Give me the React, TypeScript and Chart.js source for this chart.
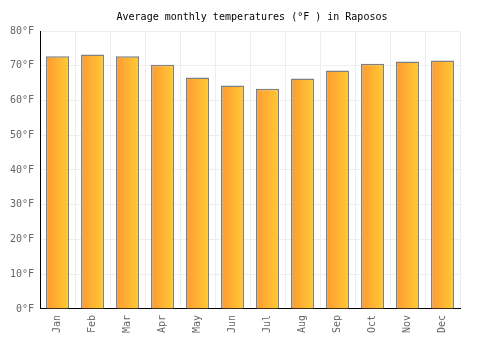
import React, { useEffect, useRef } from "react";
import { Chart, registerables } from "chart.js";

Chart.register(...registerables);

const months = ["Jan", "Feb", "Mar", "Apr", "May", "Jun", "Jul", "Aug", "Sep", "Oct", "Nov", "Dec"];
const tempsF = [72.7, 73.2, 72.7, 70.3, 66.6, 64.3, 63.4, 66.3, 68.6, 70.6, 71.2, 71.5];
const yTicks = [0, 10, 20, 30, 40, 50, 60, 70, 80];
const titleText = "Average monthly temperatures (°F ) in Raposos";

const FONT = "'DejaVu Sans Mono', monospace";
const BAR_PCT = 0.66;

export default function App() {
  const ref = useRef<HTMLCanvasElement | null>(null);
  useEffect(() => {
    if (!ref.current) return;
    const chart = new Chart(ref.current, {
      type: "bar",
      data: {
        labels: months,
        datasets: [
          {
            data: tempsF,
            backgroundColor: (ctx: any) => {
              const c = ctx.chart;
              const xs = c.scales && c.scales.x;
              if (!xs || ctx.dataIndex === undefined) return "#FFB133";
              const cx = xs.getPixelForValue(ctx.dataIndex);
              const w = (xs.width / months.length) * BAR_PCT;
              if (!isFinite(cx) || !isFinite(w) || w <= 0) return "#FFB133";
              const g = c.ctx.createLinearGradient(cx - w / 2, 0, cx + w / 2, 0);
              g.addColorStop(0, "#FF9A30");
              g.addColorStop(1, "#FFCB35");
              return g;
            },
            borderColor: "#808080",
            borderWidth: 1.5,
            barPercentage: BAR_PCT,
            categoryPercentage: 1,
          },
        ],
      },
      options: {
        animation: false,
        responsive: false,
        maintainAspectRatio: false,
        layout: { padding: { left: 4, right: 0, top: 4, bottom: 11 } },
        plugins: {
          legend: { display: false },
          tooltip: { enabled: false },
          title: {
            display: true,
            text: titleText,
            color: "#000",
            font: { family: FONT, size: 10, weight: "normal" },
            padding: { top: 7, bottom: 8 },
          },
        },
        scales: {
          x: {
            grid: { color: "#eeeeee", offset: true, drawTicks: false },
            border: { color: "#000", width: 1 },
            ticks: {
              color: "#666",
              font: { family: FONT, size: 10 },
              maxRotation: 90,
              minRotation: 90,
              padding: 6,
            },
          },
          y: {
            min: 0,
            max: 80,
            afterBuildTicks: (axis: any) => {
              axis.ticks = yTicks.map((v) => ({ value: v }));
            },
            grid: { color: "#eeeeee", drawTicks: false },
            border: { color: "#000", width: 1 },
            ticks: {
              color: "#666",
              font: { family: FONT, size: 10 },
              padding: 6,
              callback: (v: any) => v + "°F",
            },
          },
          spacer: {
            type: "linear",
            position: "right",
            display: true,
            grid: { display: false, drawTicks: false },
            border: { display: false },
            ticks: { display: false },
            afterFit: (axis: any) => {
              axis.width = 40;
            },
          },
        },
      },
    } as any);
    chart.update();
    return () => chart.destroy();
  }, []);
  return (
    <div style={{ position: "fixed", left: 0, top: 0, width: 500, height: 350, background: "#fff" }}>
      <canvas ref={ref} width={500} height={350} style={{ width: 500, height: 350 }} />
    </div>
  );
}
